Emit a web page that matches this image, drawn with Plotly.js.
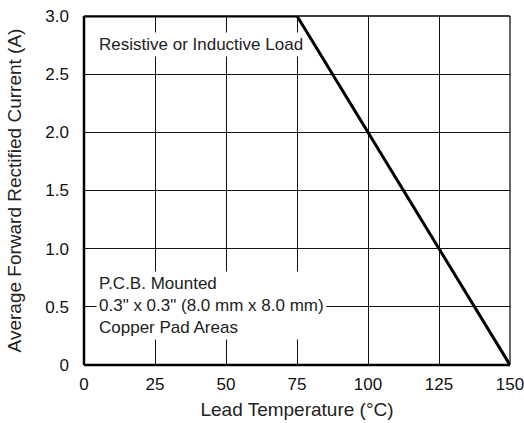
<!DOCTYPE html>
<html>
<head>
<meta charset="utf-8">
<script src="https://cdn.plot.ly/plotly-3.0.1.min.js"></script>
<style>html,body{margin:0;padding:0;background:#fff;}#chart{width:524px;height:423px;}</style>
</head>
<body>
<div id="chart"></div>
<script>
// Data
const leadTemp = [0, 75, 150];
const avgCurrent = [3.0, 3.0, 0];
const xTickVals = [0, 25, 50, 75, 100, 125, 150];
const xTickText = ['0', '25', '50', '75', '100', '125', '150'];
const yTickVals = [0, 0.5, 1.0, 1.5, 2.0, 2.5, 3.0];
const yTickText = ['0', '0.5', '1.0', '1.5', '2.0', '2.5', '3.0'];
const note1 = 'Resistive or Inductive Load';
const note2 = 'P.C.B. Mounted<br>0.3" x 0.3" (8.0 mm x 8.0 mm)<br>Copper Pad Areas';

const FONT = 'Liberation Sans, Arial, Helvetica, sans-serif';

const trace = {
  x: leadTemp, y: avgCurrent, type: 'scatter', mode: 'lines',
  line: {color: '#000', width: 3}, cliponaxis: false, hoverinfo: 'skip'
};

const layout = {
  width: 524, height: 423,
  margin: {l: 84, r: 14, t: 16, b: 58},
  paper_bgcolor: '#fff', plot_bgcolor: '#fff',
  showlegend: false,
  font: {family: FONT, size: 17, color: '#111'},
  xaxis: {
    range: [0, 150], tickvals: xTickVals, ticktext: xTickText,
    showgrid: true, gridcolor: '#111', gridwidth: 1, zeroline: false,
    showline: false, ticks: '', ticklabelstandoff: 7, ticklabeloverflow: 'allow',
    tickfont: {family: FONT, size: 17, color: '#111'},
    title: {text: 'Lead Temperature (°C)', font: {family: FONT, size: 19, color: '#222'}, standoff: 9},
    fixedrange: true
  },
  yaxis: {
    range: [0, 3], tickvals: yTickVals, ticktext: yTickText,
    showgrid: true, gridcolor: '#111', gridwidth: 1, zeroline: false,
    showline: false, ticks: '', ticklabelstandoff: 14, ticklabeloverflow: 'allow',
    tickfont: {family: FONT, size: 17, color: '#111'},
    title: {text: 'Average Forward Rectified Current (A)', font: {family: FONT, size: 19, color: '#222'}, standoff: 18},
    fixedrange: true
  },
  shapes: [
    {type: 'line', xref: 'paper', yref: 'paper', x0: 0, x1: 0, y0: 0, y1: 1, line: {color: '#000', width: 2.5}},
    {type: 'line', xref: 'paper', yref: 'paper', x0: 0, x1: 1, y0: 0, y1: 0, line: {color: '#000', width: 2.5}},
    {type: 'line', xref: 'paper', yref: 'paper', x0: 0, x1: 1, y0: 1, y1: 1, line: {color: '#000', width: 1.5}},
    {type: 'line', xref: 'paper', yref: 'paper', x0: 1, x1: 1, y0: 0, y1: 1, line: {color: '#000', width: 1.2}}
  ],
  annotations: [
    {x: 4.2, y: 2.754, xref: 'x', yref: 'y', xanchor: 'left', yanchor: 'middle',
     text: note1, showarrow: false, align: 'left', bgcolor: '#fff', borderpad: 2,
     font: {family: FONT, size: 17, color: '#222'}},
    {x: 4.2, y: 0.508, xref: 'x', yref: 'y', xanchor: 'left', yanchor: 'middle',
     text: note2, showarrow: false, align: 'left', bgcolor: '#fff', borderpad: 2,
     font: {family: FONT, size: 17, color: '#222'}}
  ]
};

Plotly.newPlot('chart', [trace], layout, {displayModeBar: false, staticPlot: true});
</script>
</body>
</html>
